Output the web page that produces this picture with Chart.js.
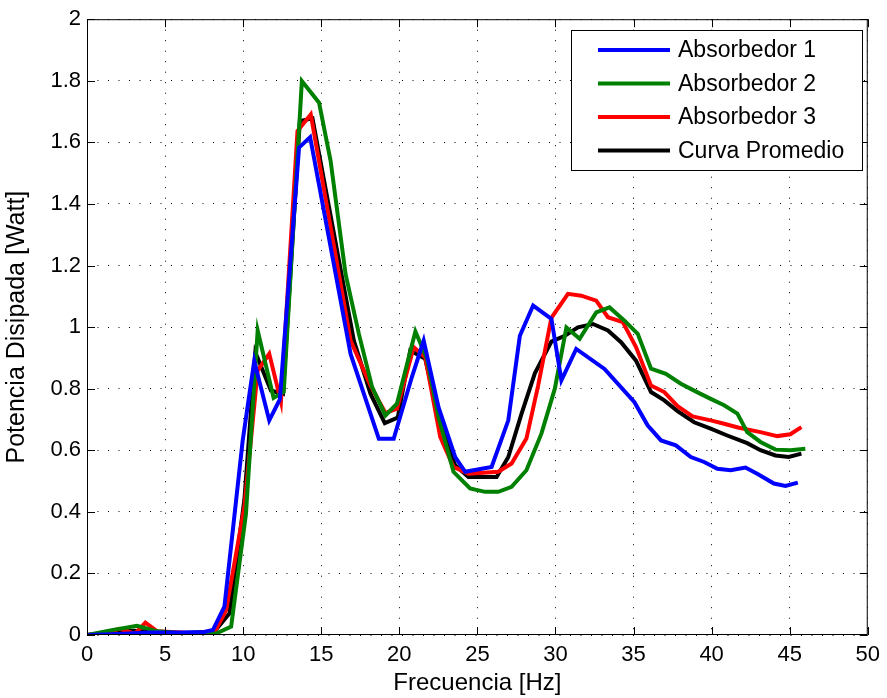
<!DOCTYPE html>
<html>
<head>
<meta charset="utf-8">
<script src="https://cdn.jsdelivr.net/npm/chart.js@4"></script>
<style>
  body { margin: 0; background: #fff; }
  #wrap { width: 887px; height: 698px; }
</style>
</head>
<body>
<div id="wrap"><canvas id="grafico" width="887" height="698"></canvas></div>
<script>
// datos
const freq1 = [0, 2, 4, 6, 7.5, 8.06, 8.8, 9.97, 10.71, 11.67, 12.35, 13.58, 14.29, 16.88, 18.69, 19.64, 20.8, 21.56, 22.51, 23.58, 24.22, 25.91, 26.98, 27.72, 28.57, 29.74, 30.38, 31.33, 33.14, 35.06, 35.9, 36.76, 37.71, 38.67, 39.52, 40.37, 41.22, 42.17, 42.92, 43.99, 44.73, 45.52];
const pot1 = [0, 0.003, 0.008, 0.008, 0.01, 0.016, 0.092, 0.632, 0.89, 0.697, 0.765, 1.583, 1.617, 0.913, 0.637, 0.637, 0.837, 0.956, 0.74, 0.578, 0.53, 0.546, 0.697, 0.972, 1.07, 1.027, 0.827, 0.929, 0.864, 0.756, 0.681, 0.632, 0.616, 0.578, 0.562, 0.54, 0.535, 0.544, 0.524, 0.492, 0.484, 0.495];

const freq2 = [0, 1.5, 3.2, 4.5, 6, 8.27, 9.23, 10.18, 10.93, 11.95, 12.6, 13.76, 14.86, 15.6, 16.56, 17.41, 18.26, 19.11, 19.85, 21.03, 21.77, 22.51, 23.47, 24.53, 25.49, 26.34, 27.19, 28.14, 29.1, 29.96, 30.7, 31.55, 32.61, 33.46, 34.42, 35.27, 36.12, 37.07, 38.03, 39.1, 39.94, 40.8, 41.65, 42.28, 43.13, 44.09, 45.04, 46.0];
const pot2 = [0, 0.015, 0.03, 0.012, 0.006, 0.005, 0.027, 0.394, 0.989, 0.77, 0.79, 1.799, 1.729, 1.54, 1.172, 0.978, 0.805, 0.713, 0.751, 0.986, 0.897, 0.708, 0.53, 0.476, 0.465, 0.465, 0.481, 0.535, 0.654, 0.8, 0.999, 0.962, 1.048, 1.064, 1.021, 0.978, 0.865, 0.848, 0.816, 0.788, 0.767, 0.746, 0.719, 0.659, 0.627, 0.602, 0.6, 0.605];

const freq3 = [0, 1, 2.1, 3.06, 3.74, 4.5, 6, 7, 8.2, 8.91, 10.08, 10.93, 11.67, 12.42, 13.48, 14.33, 16.88, 18.16, 19.11, 19.85, 20.92, 21.66, 22.62, 23.47, 24.43, 26.34, 27.19, 28.14, 28.89, 29.74, 30.8, 31.65, 32.61, 33.36, 34.31, 35.16, 36.12, 36.97, 37.82, 38.78, 39.94, 40.8, 41.75, 43.13, 44.2, 45.04, 45.75];
const pot3 = [0, 0.006, 0.02, 0.004, 0.04, 0.012, 0.008, 0.006, 0.012, 0.081, 0.416, 0.859, 0.913, 0.758, 1.637, 1.691, 0.956, 0.81, 0.721, 0.735, 0.935, 0.902, 0.643, 0.546, 0.524, 0.53, 0.557, 0.638, 0.81, 1.03, 1.108, 1.102, 1.086, 1.032, 1.016, 0.935, 0.81, 0.789, 0.743, 0.71, 0.697, 0.686, 0.673, 0.659, 0.646, 0.652, 0.675];

const freqProm = [0, 1.5, 3, 4.5, 6, 8.16, 9.12, 10.08, 10.78, 11.78, 12.55, 13.63, 14.44, 17.09, 18.16, 19.07, 19.9, 20.7, 21.66, 22.62, 23.58, 24.43, 26.23, 26.98, 27.83, 28.68, 29.74, 30.6, 31.44, 32.4, 33.36, 34.2, 35.16, 36.12, 36.97, 37.82, 38.88, 39.94, 41.0, 42.28, 43.13, 44.09, 44.94, 45.75];
const potProm = [0, 0.008, 0.014, 0.01, 0.006, 0.011, 0.07, 0.44, 0.918, 0.794, 0.783, 1.669, 1.678, 0.956, 0.783, 0.688, 0.706, 0.924, 0.897, 0.686, 0.551, 0.513, 0.513, 0.578, 0.719, 0.85, 0.953, 0.972, 0.999, 1.01, 0.989, 0.951, 0.891, 0.789, 0.762, 0.727, 0.691, 0.67, 0.648, 0.623, 0.6, 0.583, 0.578, 0.589];

const etiquetas = ["Absorbedor 1", "Absorbedor 2", "Absorbedor 3", "Curva Promedio"];
const colores = ["#0000ff", "#008000", "#ff0000", "#000000"];

function puntos(fx, py) {
  return fx.map((f, i) => ({ x: f, y: py[i] }));
}

const fuente = "'Liberation Sans', Arial, Helvetica, sans-serif";

// caja de ejes con marcas hacia adentro (estilo matlab)
const cajaEjes = {
  id: "cajaEjes",
  afterDatasetsDraw(chart) {
    const ctx = chart.ctx;
    const a = chart.chartArea;
    const sx = chart.scales.x;
    const sy = chart.scales.y;
    ctx.save();
    ctx.strokeStyle = "#000";
    ctx.lineWidth = 1;
    ctx.beginPath();
    sx.ticks.forEach((t) => {
      const px = Math.round(sx.getPixelForValue(t.value)) + 0.5;
      ctx.moveTo(px, a.bottom);
      ctx.lineTo(px, a.bottom - 8);
      ctx.moveTo(px, a.top);
      ctx.lineTo(px, a.top + 8);
    });
    sy.ticks.forEach((t) => {
      const py = Math.round(sy.getPixelForValue(t.value)) + 0.5;
      ctx.moveTo(a.left, py);
      ctx.lineTo(a.left + 8, py);
      ctx.moveTo(a.right, py);
      ctx.lineTo(a.right - 8, py);
    });
    ctx.stroke();
    ctx.strokeRect(a.left + 0.5, a.top + 0.5, a.right - a.left - 1, a.bottom - a.top - 1);
    ctx.restore();
  },
};

// leyenda dentro del area del grafico
const leyenda = {
  id: "leyenda",
  afterDraw(chart) {
    const ctx = chart.ctx;
    const x0 = 571, y0 = 30, w = 291, h = 140;
    ctx.save();
    ctx.fillStyle = "#fff";
    ctx.fillRect(x0, y0, w, h);
    ctx.strokeStyle = "#000";
    ctx.lineWidth = 1;
    ctx.strokeRect(x0 + 0.5, y0 + 0.5, w, h);
    ctx.font = "23px " + fuente;
    ctx.textBaseline = "middle";
    chart.data.datasets.forEach((ds, i) => {
      const yy = y0 + 20 + i * 33.5;
      ctx.strokeStyle = ds.borderColor;
      ctx.lineWidth = 4;
      ctx.beginPath();
      ctx.moveTo(x0 + 27, yy);
      ctx.lineTo(x0 + 99, yy);
      ctx.stroke();
      ctx.fillStyle = "#000";
      ctx.fillText(ds.label, x0 + 107, yy + 1);
    });
    ctx.restore();
  },
};

const series = [puntos(freq1, pot1), puntos(freq2, pot2), puntos(freq3, pot3), puntos(freqProm, potProm)];

new Chart(document.getElementById("grafico"), {
  type: "line",
  data: {
    datasets: series.map((s, i) => ({
      label: etiquetas[i],
      data: s,
      borderColor: colores[i],
      backgroundColor: colores[i],
      borderWidth: 4,
      pointRadius: 0,
      tension: 0,
      fill: false,
    })),
  },
  options: {
    responsive: false,
    animation: false,
    layout: { padding: { top: 18, right: 16, left: 0, bottom: 0 } },
    plugins: {
      legend: { display: false },
      tooltip: { enabled: false },
    },
    scales: {
      x: {
        type: "linear",
        min: 0,
        max: 50,
        afterFit: (s) => { s.height = 63; },
        ticks: {
          stepSize: 5,
          padding: 7,
          color: "#000",
          font: { family: fuente, size: 22 },
          maxRotation: 0,
        },
        grid: { color: "#000", lineWidth: 1, drawTicks: false },
        border: { display: false, dash: [1, 9.5] },
        title: {
          display: true,
          text: "Frecuencia [Hz]",
          color: "#000",
          font: { family: fuente, size: 24 },
          padding: { top: 0, bottom: 0 },
        },
      },
      y: {
        min: 0,
        max: 2,
        afterFit: (s) => { s.width = 87; },
        ticks: {
          stepSize: 0.2,
          padding: 6,
          color: "#000",
          font: { family: fuente, size: 22 },
          callback: (v) => String(+v.toFixed(1)),
        },
        grid: { color: "#000", lineWidth: 1, drawTicks: false },
        border: { display: false, dash: [1, 9.5] },
        title: {
          display: true,
          text: "Potencia Disipada [Watt]",
          color: "#000",
          font: { family: fuente, size: 25 },
          padding: { top: 2, bottom: 0 },
        },
      },
    },
  },
  plugins: [cajaEjes, leyenda],
});
</script>
</body>
</html>
